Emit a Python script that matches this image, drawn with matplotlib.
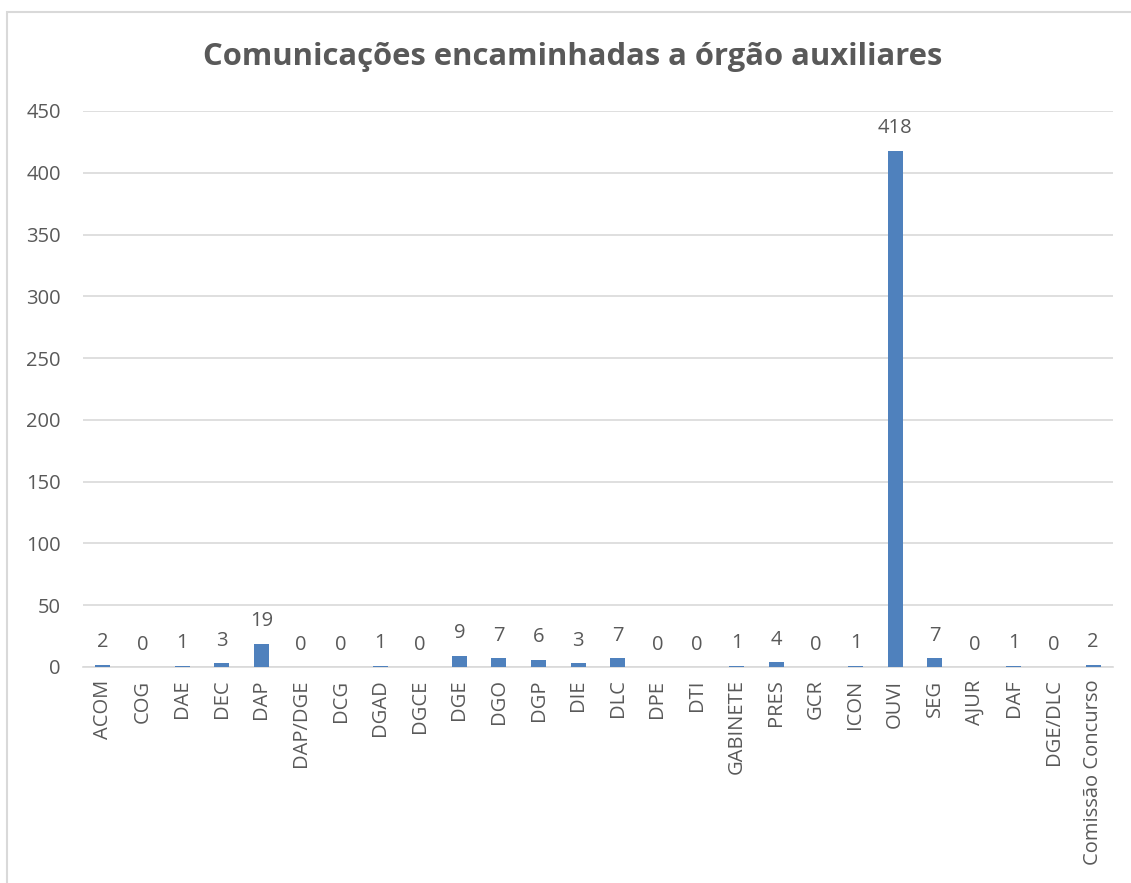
import matplotlib.pyplot as plt
from matplotlib.patches import Rectangle
import numpy as np

# --- DATA ---
categories = ['ACOM', 'COG', 'DAE', 'DEC', 'DAP', 'DAP/DGE', 'DCG', 'DGAD', 'DGCE',
              'DGE', 'DGO', 'DGP', 'DIE', 'DLC', 'DPE', 'DTI', 'GABINETE', 'PRES',
              'GCR', 'ICON', 'OUVI', 'SEG', 'AJUR', 'DAF', 'DGE/DLC', 'Comissão Concurso']
values = [2, 0, 1, 3, 19, 0, 0, 1, 0, 9, 7, 6, 3, 7, 0, 0, 1, 4, 0, 1, 418, 7, 0, 1, 0, 2]
y_ticks = [0, 50, 100, 150, 200, 250, 300, 350, 400, 450]

TEXT = '#595959'
BAR = '#4F81BD'
GRID = '#d9d9d9'
FS = 14.5
plt.rcParams['font.family'] = ['Open Sans', 'DejaVu Sans']

W, H = 1131, 883
fig = plt.figure(figsize=(W / 100, H / 100), dpi=100)
ax = fig.add_axes([83 / W, 1 - 667 / H, (1113 - 83) / W, (667 - 111) / H])

# outer chart frame (cut off at right and bottom like the screenshot)
fig.patches.append(Rectangle((7 / W, -0.1), 1.2, 1 - 12 / H + 0.1, transform=fig.transFigure,
                             fill=False, edgecolor=GRID, linewidth=1.5))

x = np.arange(len(categories))
ax.bar(x, values, width=0.38, color=BAR, zorder=3)
for xi, v in zip(x, values):
    ax.annotate(str(v), (xi, v), xytext=(0, 9), textcoords='offset points',
                ha='center', va='bottom', fontsize=FS, color=TEXT)

ax.set_xlim(-0.5, len(categories) - 0.5)
ax.set_ylim(0, 450)
ax.set_yticks(y_ticks)
ax.set_xticks(x)
ax.set_xticklabels(categories, rotation=90, fontsize=FS, color=TEXT)
ax.tick_params(axis='y', labelsize=FS, labelcolor=TEXT, length=0, pad=16)
ax.tick_params(axis='x', length=0, pad=9)
ax.yaxis.grid(True, color=GRID, linewidth=1.2, zorder=0)
for s in ['top', 'right', 'left']:
    ax.spines[s].set_visible(False)
ax.spines['bottom'].set_color(GRID)
ax.spines['bottom'].set_linewidth(1.2)

fig.text(573 / W, 1 - 57 / H, 'Comunicações encaminhadas a órgão auxiliares',
         ha='center', va='center', fontsize=22.3, fontweight='bold', color=TEXT)

fig.savefig('out.png', dpi=100)
